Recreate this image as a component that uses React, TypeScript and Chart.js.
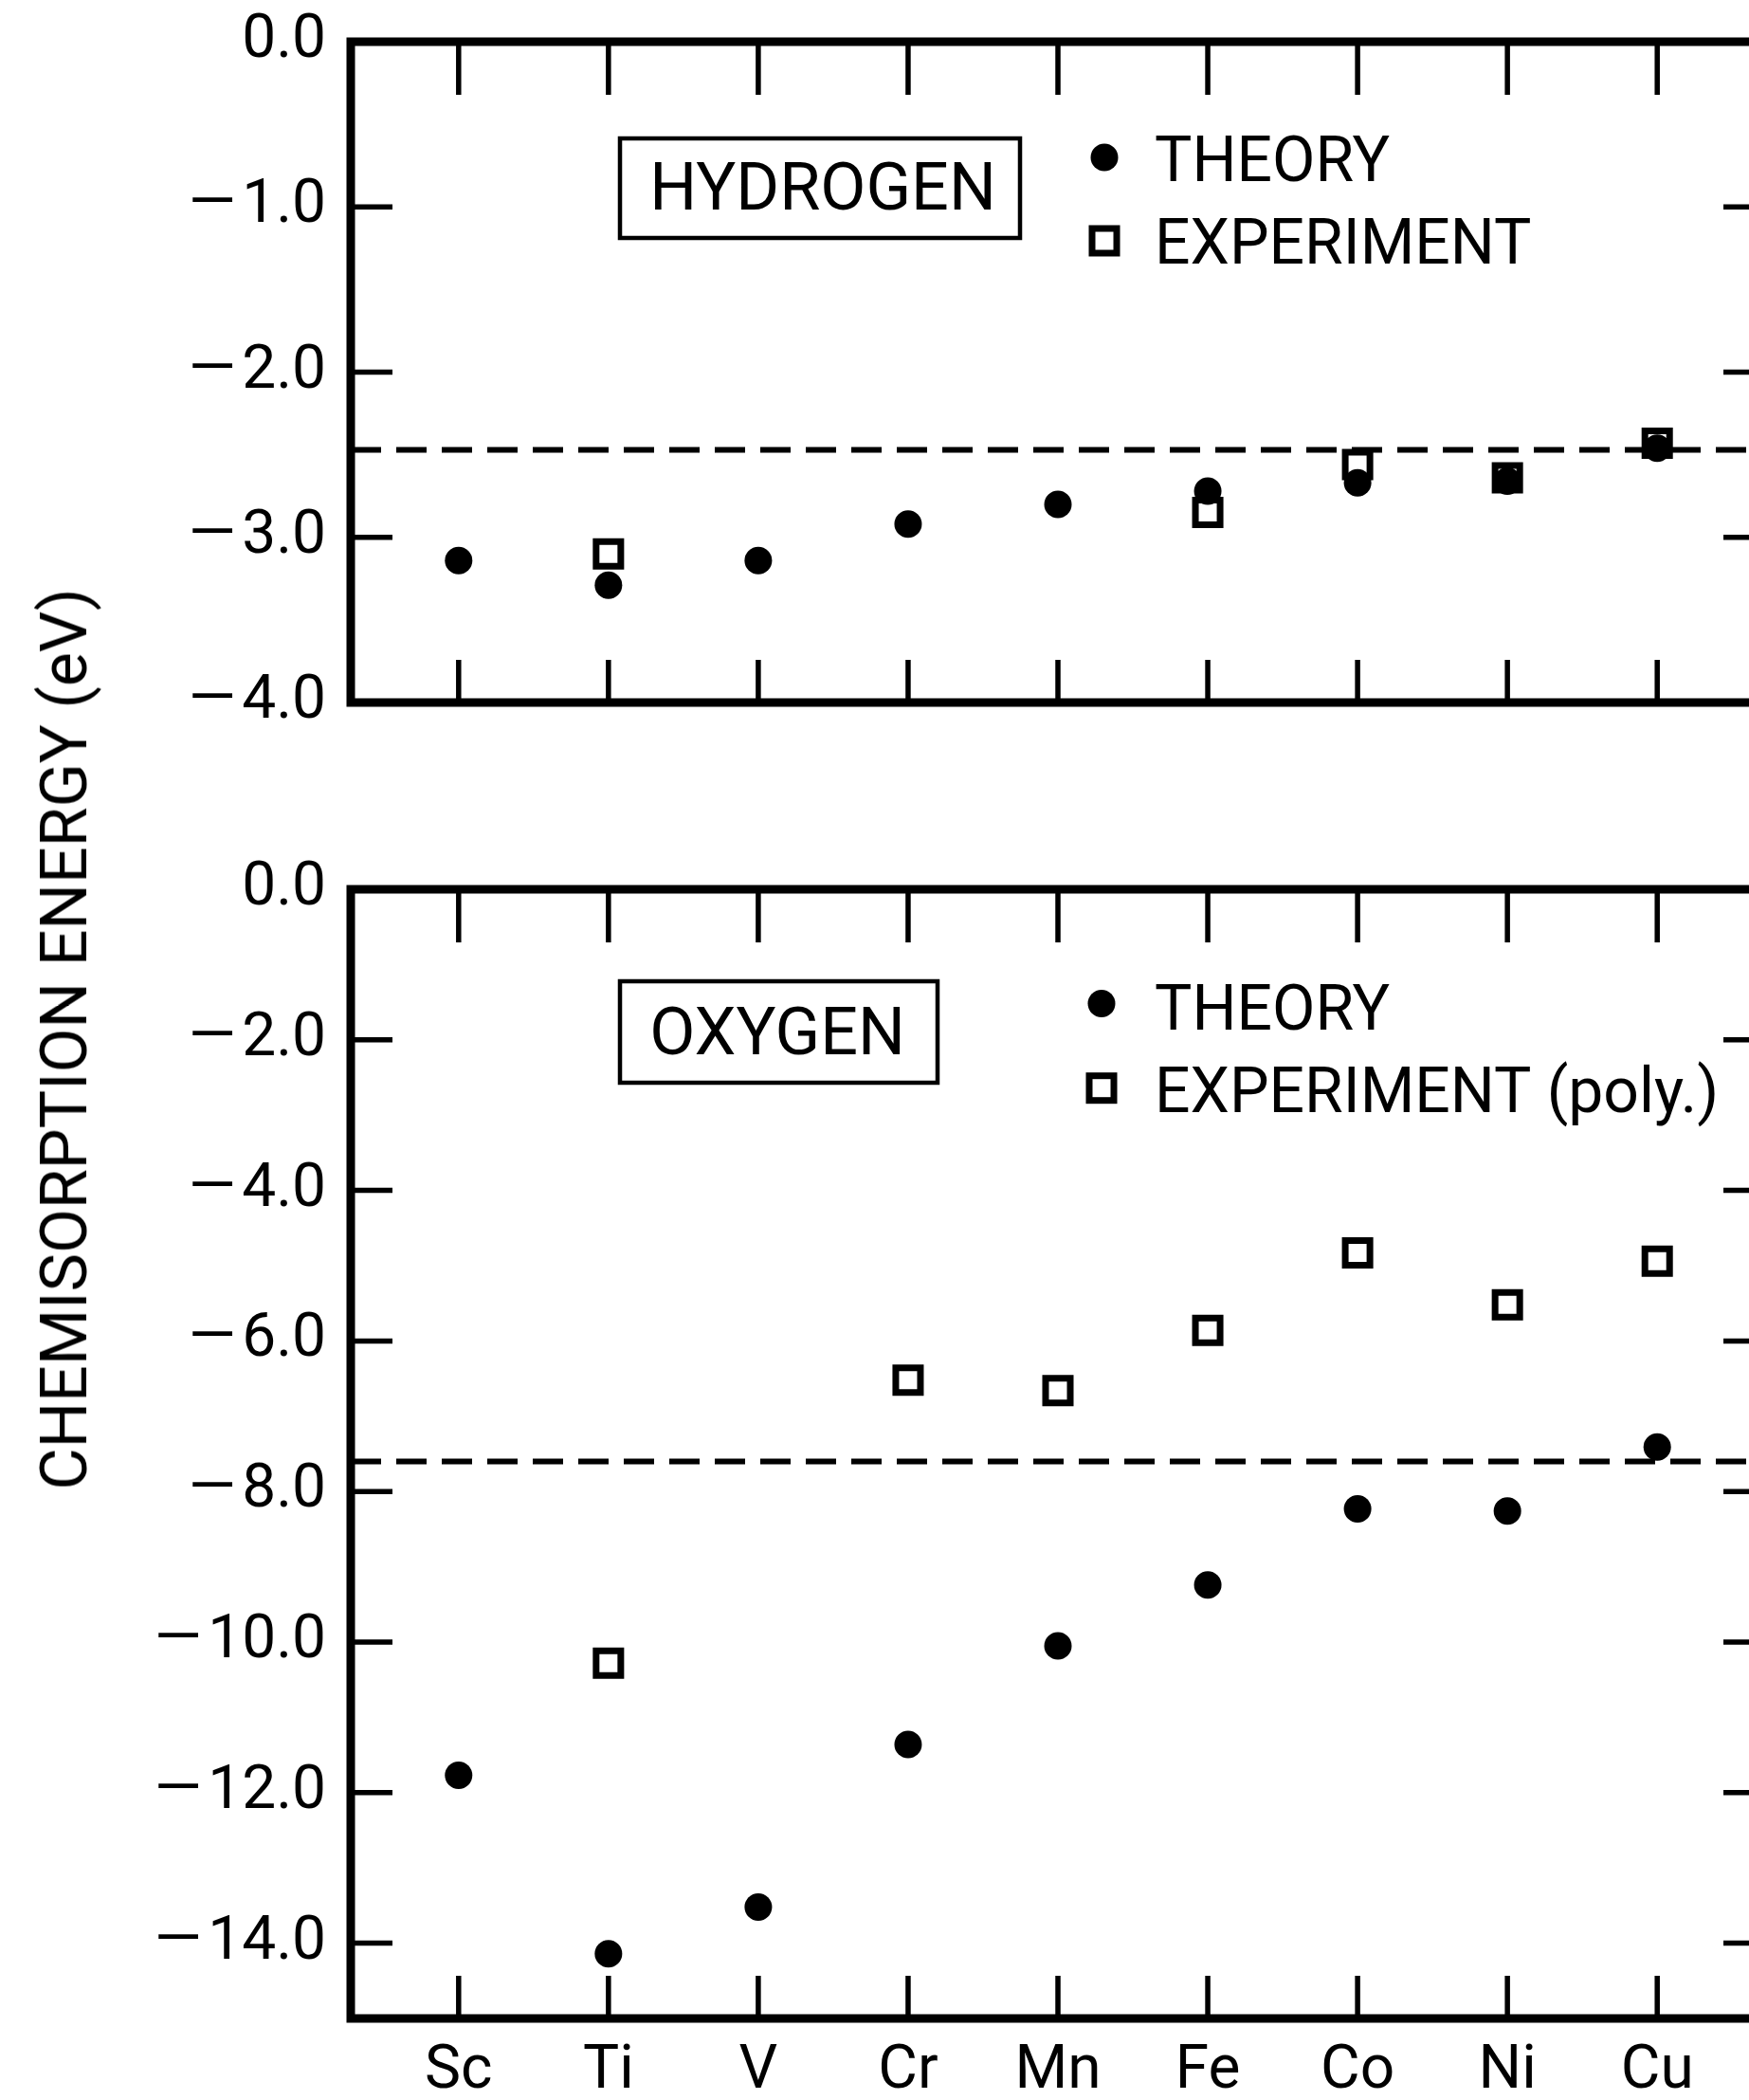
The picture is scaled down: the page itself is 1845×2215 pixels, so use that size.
import React, { useEffect, useRef } from "react";
import { Chart, registerables } from "chart.js";

Chart.register(...registerables);

// ---------------- data ----------------
const elements = ["Sc", "Ti", "V", "Cr", "Mn", "Fe", "Co", "Ni", "Cu"];

const hydrogenTheory = [-3.14, -3.29, -3.14, -2.92, -2.8, -2.72, -2.67, -2.66, -2.46];
const hydrogenExperiment: (number | null)[] = [null, -3.1, null, null, null, -2.85, -2.56, -2.64, -2.43];
const hydrogenReference = -2.47;
const hydrogenTickValues = [0, -1, -2, -3, -4];
const hydrogenTickLabels = ["0.0", "\u2014\u200A1.0", "\u2014\u200A2.0", "\u2014\u200A3.0", "\u2014\u200A4.0"];
const hydrogenRange = [-4, 0];

const oxygenTheory = [-11.77, -14.14, -13.52, -11.36, -10.05, -9.24, -8.23, -8.26, -7.41];
const oxygenExperiment: (number | null)[] = [null, -10.28, null, -6.52, -6.66, -5.86, -4.83, -5.52, -4.94];
const oxygenReference = -7.6;
const oxygenTickValues = [0, -2, -4, -6, -8, -10, -12, -14];
const oxygenTickLabels = [
  "0.0",
  "\u2014\u200A2.0",
  "\u2014\u200A4.0",
  "\u2014\u200A6.0",
  "\u2014\u200A8.0",
  "\u2014\u200A10.0",
  "\u2014\u200A12.0",
  "\u2014\u200A14.0",
];
const oxygenRange = [-15, 0];

const xRange = [0.28, 9.72];

const theoryLabel = "THEORY";
const hydrogenName = "HYDROGEN";
const hydrogenExperimentLabel = "EXPERIMENT";
const oxygenName = "OXYGEN";
const oxygenExperimentLabel = "EXPERIMENT (poly.)";
const yTitle = "CHEMISORPTION ENERGY (eV)";

// ---------------- styling / layout ----------------
const FONT = "Roboto, 'Liberation Sans', Arial, sans-serif";
const INK = "#000";
const CANVAS_W = 1922;
const AXIS_W = 370;
const PAD_RIGHT = 60;

type Panel = {
  theory: (number | null)[];
  experiment: (number | null)[];
  reference: number;
  tickValues: number[];
  tickLabels: string[];
  range: number[];
  name: string;
  expLabel: string;
  showX: boolean;
  padTop: number;
  padBottom: number;
  xAxisH: number;
  box: { x: number; y: number; w: number; h: number };
  nameAt: { x: number; y: number };
  legTheory: { x: number; y: number; ty: number };
  legExp: { x: number; y: number; ty: number };
  textX: number;
};

const hydrogenPanel: Panel = {
  theory: hydrogenTheory,
  experiment: hydrogenExperiment,
  reference: hydrogenReference,
  tickValues: hydrogenTickValues,
  tickLabels: hydrogenTickLabels,
  range: hydrogenRange,
  name: hydrogenName,
  expLabel: hydrogenExperimentLabel,
  showX: false,
  padTop: 44,
  padBottom: 40,
  xAxisH: 0,
  box: { x: 284, y: 102, w: 422, h: 105 },
  nameAt: { x: 498, y: 152.5 },
  legTheory: { x: 795, y: 122, ty: 124 },
  legExp: { x: 795, y: 210, ty: 211 },
  textX: 848,
};

const oxygenPanel: Panel = {
  theory: oxygenTheory,
  experiment: oxygenExperiment,
  reference: oxygenReference,
  tickValues: oxygenTickValues,
  tickLabels: oxygenTickLabels,
  range: oxygenRange,
  name: oxygenName,
  expLabel: oxygenExperimentLabel,
  showX: true,
  padTop: 38,
  padBottom: 0,
  xAxisH: 86,
  box: { x: 284, y: 97, w: 335, h: 107 },
  nameAt: { x: 450, y: 149 },
  legTheory: { x: 792, y: 120.5, ty: 125 },
  legExp: { x: 792, y: 209.7, ty: 212 },
  textX: 848,
};

function decorPlugin(p: Panel) {
  return {
    id: "panelDecor",
    beforeDatasetsDraw(chart: any) {
      const { ctx, chartArea: a, scales } = chart;
      const xs = scales.x;
      const ys = scales.y;
      const seg = (x1: number, y1: number, x2: number, y2: number) => {
        ctx.beginPath();
        ctx.moveTo(x1, y1);
        ctx.lineTo(x2, y2);
        ctx.stroke();
      };
      ctx.save();
      ctx.strokeStyle = INK;
      ctx.lineCap = "butt";
      ctx.lineWidth = 5.5;
      elements.forEach((_, i) => {
        const px = xs.getPixelForValue(i + 1);
        seg(px, a.top, px, a.top + 56);
        seg(px, a.bottom, px, a.bottom - 45);
      });
      p.tickValues.forEach((v) => {
        if (v === p.range[0] || v === p.range[1]) return;
        const py = ys.getPixelForValue(v);
        seg(a.left, py, a.left + 44, py);
        seg(a.right, py, a.right - 44, py);
      });
      ctx.lineWidth = 9;
      ctx.lineJoin = "miter";
      ctx.strokeRect(a.left, a.top, a.right - a.left, a.bottom - a.top);
      ctx.restore();
    },
    afterDraw(chart: any) {
      const { ctx, chartArea: a } = chart;
      ctx.save();
      ctx.fillStyle = INK;
      ctx.strokeStyle = INK;
      // boxed panel name
      ctx.lineWidth = 4.5;
      ctx.strokeRect(a.left + p.box.x, a.top + p.box.y, p.box.w, p.box.h);
      const nameSize = 70;
      ctx.font = `${nameSize}px ${FONT}`;
      ctx.textAlign = "center";
      ctx.textBaseline = "alphabetic";
      ctx.fillText(p.name, a.left + p.nameAt.x, a.top + p.nameAt.y + 0.355 * nameSize);
      // legend markers
      ctx.beginPath();
      ctx.arc(a.left + p.legTheory.x, a.top + p.legTheory.y, 14.5, 0, Math.PI * 2);
      ctx.fill();
      ctx.lineWidth = 7;
      ctx.strokeRect(a.left + p.legExp.x - 13, a.top + p.legExp.y - 13, 26, 26);
      // legend text
      const legSize = 66;
      ctx.font = `${legSize}px ${FONT}`;
      ctx.textAlign = "left";
      ctx.fillText(theoryLabel, a.left + p.textX, a.top + p.legTheory.ty + 0.355 * legSize);
      ctx.fillText(p.expLabel, a.left + p.textX, a.top + p.legExp.ty + 0.355 * legSize);
      ctx.restore();
    },
  };
}

function makeConfig(p: Panel): any {
  const theory = elements
    .map((_, i) => ({ x: i + 1, y: p.theory[i] }))
    .filter((d) => d.y !== null);
  const experiment = elements
    .map((_, i) => ({ x: i + 1, y: p.experiment[i] }))
    .filter((d) => d.y !== null);
  const refLine = [
    { x: xRange[0], y: p.reference },
    { x: xRange[1], y: p.reference },
  ];
  return {
    type: "scatter",
    data: {
      datasets: [
        {
          label: theoryLabel,
          data: theory,
          pointStyle: "circle",
          pointRadius: 14.5,
          pointHoverRadius: 14.5,
          backgroundColor: INK,
          borderColor: INK,
          borderWidth: 0,
        },
        {
          label: p.expLabel,
          data: experiment,
          pointStyle: "rect",
          pointRadius: 18.4,
          pointHoverRadius: 18.4,
          backgroundColor: "rgba(0,0,0,0)",
          borderColor: INK,
          borderWidth: 7,
        },
        {
          type: "line",
          label: "reference",
          data: refLine,
          borderColor: INK,
          borderWidth: 6,
          borderDash: [32, 16],
          pointRadius: 0,
          fill: false,
          tension: 0,
        },
      ],
    },
    options: {
      responsive: false,
      animation: false,
      devicePixelRatio: 1,
      events: [],
      layout: { padding: { left: 0, right: PAD_RIGHT, top: p.padTop, bottom: p.padBottom } },
      plugins: { legend: { display: false }, tooltip: { enabled: false }, title: { display: false } },
      scales: {
        x: {
          type: "linear",
          display: p.showX,
          min: xRange[0],
          max: xRange[1],
          grid: { display: false, drawTicks: false },
          border: { display: false },
          afterBuildTicks: (scale: any) => {
            scale.ticks = elements.map((_, i) => ({ value: i + 1 }));
          },
          afterFit: (scale: any) => {
            if (p.showX) scale.height = p.xAxisH;
            scale.paddingLeft = 0;
            scale.paddingRight = 0;
          },
          ticks: {
            autoSkip: false,
            maxRotation: 0,
            minRotation: 0,
            padding: 19,
            color: INK,
            font: { family: FONT, size: 64 },
            callback: (v: number) => elements[Math.round(v) - 1] ?? "",
          },
        },
        y: {
          type: "linear",
          min: p.range[0],
          max: p.range[1],
          grid: { display: false, drawTicks: false },
          border: { display: false },
          afterBuildTicks: (scale: any) => {
            scale.ticks = p.tickValues.map((v) => ({ value: v }));
          },
          afterFit: (scale: any) => {
            scale.width = AXIS_W;
            scale.paddingTop = 0;
            scale.paddingBottom = 0;
          },
          ticks: {
            autoSkip: false,
            padding: 26,
            color: INK,
            font: { family: FONT, size: 64 },
            callback: (v: number) => {
              const i = p.tickValues.indexOf(v);
              return i >= 0 ? p.tickLabels[i] : "";
            },
          },
        },
      },
    },
    plugins: [decorPlugin(p)],
  };
}

export default function App() {
  const topRef = useRef<HTMLCanvasElement>(null);
  const bottomRef = useRef<HTMLCanvasElement>(null);

  useEffect(() => {
    const c1 = new Chart(topRef.current as HTMLCanvasElement, makeConfig(hydrogenPanel));
    const c2 = new Chart(bottomRef.current as HTMLCanvasElement, makeConfig(oxygenPanel));
    return () => {
      c1.destroy();
      c2.destroy();
    };
  }, []);

  return (
    <div
      style={{
        position: "absolute",
        left: 0,
        top: 0,
        width: 1845,
        height: 2215,
        overflow: "hidden",
        background: "#fff",
      }}
    >
      <canvas
        ref={topRef}
        width={CANVAS_W}
        height={781}
        style={{ position: "absolute", left: 0, top: 0 }}
      />
      <canvas
        ref={bottomRef}
        width={CANVAS_W}
        height={1315}
        style={{ position: "absolute", left: 0, top: 900 }}
      />
      <div
        style={{
          position: "absolute",
          left: 68,
          top: 1096,
          transform: "translate(-50%, -50%) rotate(-90deg)",
          whiteSpace: "nowrap",
          font: `68px ${FONT}`,
          lineHeight: 1,
          color: INK,
        }}
      >
        {yTitle}
      </div>
    </div>
  );
}
